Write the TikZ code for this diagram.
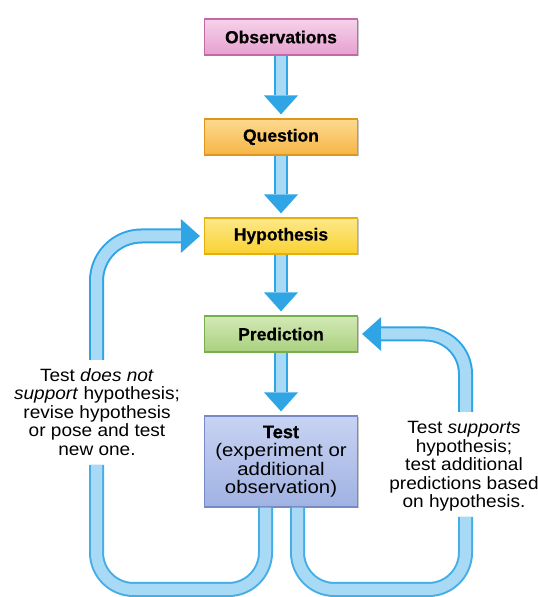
\documentclass[tikz,border=0pt]{standalone}
\usepackage{fontspec}
\setmainfont{Liberation Sans}
\newfontfamily\annfont[FakeStretch=1.07]{Liberation Sans}
\newfontfamily\testfont[FakeStretch=1.12]{Liberation Sans}
\newfontfamily\heavyfont[BoldFeatures={FakeBold=0.6}]{Liberation Sans}
\usetikzlibrary{arrows.meta,shadows,calc}
\definecolor{tubefill}{HTML}{A8DAF5}
\definecolor{tubeedge}{HTML}{45AEE6}
\definecolor{headblue}{HTML}{2FA5E6}
\definecolor{obsbase}{HTML}{E6A0CF}
\definecolor{obstop}{HTML}{F6D2EA}
\definecolor{obsedge}{HTML}{C568A6}
\definecolor{qbase}{HTML}{F6B545}
\definecolor{qtop}{HTML}{FDDA90}
\definecolor{qedge}{HTML}{E0961C}
\definecolor{hbase}{HTML}{F9D232}
\definecolor{htop}{HTML}{FDE88A}
\definecolor{hedge}{HTML}{E6B00C}
\definecolor{pbase}{HTML}{A9D07E}
\definecolor{ptop}{HTML}{D3E9B6}
\definecolor{pedge}{HTML}{78AE4C}
\definecolor{tbase}{HTML}{A0B2E3}
\definecolor{ttop}{HTML}{C8D3F2}
\definecolor{tedge}{HTML}{788AC6}
\tikzset{
  box/.style={rectangle, minimum width=153pt, minimum height=36pt, inner sep=0pt,
    line width=1.2pt, font=\heavyfont\fontsize{17.5}{19}\selectfont\bfseries,
    drop shadow={shadow xshift=1.5pt, shadow yshift=-1.5pt, fill=black, opacity=0.22}},
  obsbox/.style={box, draw=obsedge, top color=obstop, bottom color=obsbase},
  qbox/.style={box, draw=qedge, top color=qtop, bottom color=qbase},
  hbox/.style={box, draw=hedge, top color=htop, bottom color=hbase},
  pbox/.style={box, draw=pedge, top color=ptop, bottom color=pbase},
  tbox/.style={box, draw=tedge, top color=ttop, bottom color=tbase, minimum height=91pt,
    font=\testfont\fontsize{18.2}{18.5}\selectfont, align=center},
  ann/.style={align=center, inner sep=0pt, font=\annfont\fontsize{17.8}{18.4}\selectfont},
  flow/.style={line width=14pt, draw=headblue,
    -{Triangle[width=34pt, length=19pt, line width=0pt]}, shorten >=4pt,
    postaction={draw=tubefill, line width=10pt, -, shorten >=23pt}},
  tube/.style={line width=15pt, draw=tubeedge,
    postaction={draw=tubefill, line width=11pt}},
}
\begin{document}
\begin{tikzpicture}[x=1pt,y=1pt]
\useasboundingbox (0,0) rectangle (538,597);
\fill[white] (0,0) rectangle (538,597);

\node[obsbox] (obs)  at (281,560) {Observations};
\node[qbox]   (q)    at (281,460) {Question};
\node[hbox]   (hyp)  at (281,361) {Hypothesis};
\node[pbox]   (pred) at (281,263) {Prediction};
\node[tbox]   (test) at (281,135.5) {{\heavyfont\bfseries Test}\\(experiment or\\additional\\observation)};

\node[ann] (lt) at (97,185) {Test \textit{does not}\\\textit{support} hypothesis;\\revise hypothesis\\or pose and test\\new one.};
\node[ann] (rt) at (464,130.5) {Test \textit{supports}\\hypothesis;\\test additional\\predictions based\\on hypothesis.};

\coordinate (lgt) at (96.5,237);
\coordinate (lgb) at (96.5,132);
\coordinate (rgt) at (465.5,185);
\coordinate (rgb) at (465.5,80);

\draw[flow] (obs.south) -- (q.north);
\draw[flow] (q.south) -- (hyp.north);
\draw[flow] (hyp.south) -- (pred.north);
\draw[flow] (pred.south) -- (test.north);

\draw[tube, rounded corners=37pt] ([xshift=-15.5pt]test.south) |- (lgb |- 0,7.5) -- (lgb);
\draw[tube, rounded corners=37pt] ([xshift=16.5pt]test.south) |- (rgb |- 0,7.5) -- (rgb);

\draw[flow, line width=15pt, postaction={draw=tubefill, line width=11pt, -, shorten >=23pt}, rounded corners=45pt] (lgt) |- (hyp.west);
\draw[flow, line width=15pt, postaction={draw=tubefill, line width=11pt, -, shorten >=23pt}, rounded corners=40pt] (rgt) |- (pred.east);
\end{tikzpicture}
\end{document}
